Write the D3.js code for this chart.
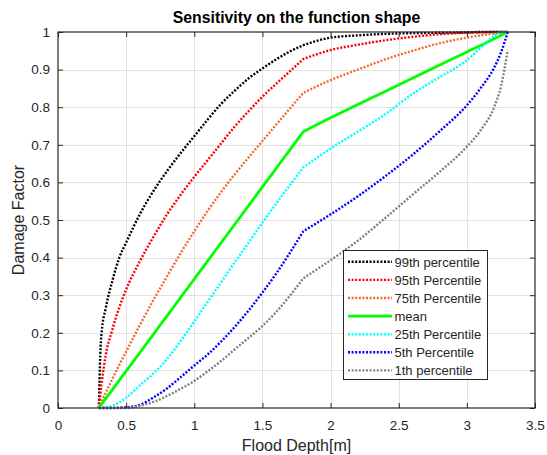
<!DOCTYPE html>
<html lang="en">
<head>
<meta charset="UTF-8">
<title>Sensitivity on the function shape</title>
<script src="https://d3js.org/d3.v7.min.js"></script>
<style>
    body{ margin:0; background:#fff; }
    text{ font-family:"Liberation Sans", Arial, Helvetica, sans-serif; fill:#262626; }
    .tick text{ font-size:13.5px; }
    .label{ font-size:16px; }
    .title{ font-size:15.8px; font-weight:bold; fill:#000; }
    .legend text{ font-size:13px; }
</style>
</head>
<body>
<div id="fig"></div>
<script>
    // flood depth samples [m]
    let depth = [0.3, 0.31, 0.32, 0.35, 0.4, 0.45, 0.5, 0.6, 0.7, 0.8, 0.9, 1.0, 1.1, 1.2, 1.3, 1.4, 1.5, 1.6, 1.7, 1.8,
                 2.0, 2.2, 2.4, 2.6, 2.8, 3.0, 3.1, 3.2, 3.25, 3.3]
    // damage factor
    let p99  = [0, 0.14, 0.2, 0.265, 0.34, 0.4, 0.44, 0.515, 0.577, 0.63, 0.678, 0.723, 0.768, 0.81, 0.845, 0.877, 0.903, 0.927, 0.948, 0.965,
                0.985, 0.991, 0.995, 0.997, 0.998, 0.999, 1, 1, 1, 1]
    let p95  = [0, 0.035, 0.065, 0.14, 0.21, 0.268, 0.315, 0.39, 0.455, 0.515, 0.567, 0.615, 0.66, 0.705, 0.75, 0.79, 0.828, 0.862, 0.895, 0.928,
                0.952, 0.966, 0.978, 0.987, 0.994, 0.998, 0.999, 1, 1, 1]
    let p75  = [0, 0.008, 0.016, 0.04, 0.078, 0.115, 0.15, 0.22, 0.287, 0.35, 0.412, 0.47, 0.525, 0.576, 0.623, 0.667, 0.71, 0.753, 0.796, 0.838,
                0.872, 0.9, 0.927, 0.95, 0.97, 0.985, 0.991, 0.996, 0.998, 1]
    let mean = [0, 0.005, 0.01, 0.025, 0.049, 0.074, 0.098, 0.147, 0.196, 0.245, 0.294, 0.343, 0.392, 0.441, 0.49, 0.539, 0.588, 0.637, 0.686, 0.735,
                0.772, 0.807, 0.842, 0.877, 0.912, 0.947, 0.964, 0.982, 0.991, 1]
    let p25  = [0, 0, 0.001, 0.002, 0.006, 0.015, 0.027, 0.06, 0.092, 0.13, 0.178, 0.23, 0.283, 0.336, 0.389, 0.441, 0.493, 0.543, 0.592, 0.64,
                0.69, 0.735, 0.781, 0.835, 0.88, 0.925, 0.958, 0.99, 1, 1]
    let p5   = [0, 0, 0, 0, 0, 0.001, 0.002, 0.008, 0.028, 0.052, 0.082, 0.113, 0.143, 0.178, 0.217, 0.26, 0.307, 0.357, 0.412, 0.47,
                0.515, 0.563, 0.616, 0.673, 0.736, 0.805, 0.85, 0.905, 0.945, 1]
    let p1   = [0, 0, 0, 0, 0, 0, 0, 0.006, 0.016, 0.032, 0.051, 0.072, 0.098, 0.126, 0.157, 0.187, 0.218, 0.255, 0.298, 0.345,
                0.393, 0.445, 0.505, 0.567, 0.628, 0.695, 0.738, 0.8, 0.855, 0.952]

    let seriesNames = ["99th percentile", "95th Percentile", "75th Percentile", "mean", "25th Percentile", "5th Percentile", "1th percentile"]
    let seriesColors = ["#000000", "#ff0000", "#f06a30", "#00ff00", "#00ffff", "#0000ff", "#808080"]
    let seriesValues = [p99, p95, p75, mean, p25, p5, p1]

    let xTicks = [0, 0.5, 1, 1.5, 2, 2.5, 3, 3.5]
    let yTicks = [0, 0.1, 0.2, 0.3, 0.4, 0.5, 0.6, 0.7, 0.8, 0.9, 1]

    let W = 547, H = 455
    let mLeft = 58, mRight = 535, mTop = 32, mBottom = 408

    let svg = d3.select("#fig").append("svg").attr("width", W).attr("height", H)

    let x = d3.scaleLinear().domain([0, 3.5]).range([mLeft, mRight])
    let y = d3.scaleLinear().domain([0, 1]).range([mBottom, mTop])

    // grid
    let grid = svg.append("g").attr("stroke", "#e1e1e1").attr("stroke-width", 1)
    grid.selectAll(".gx").data(xTicks.slice(1, -1)).enter().append("line")
        .attr("x1", d => Math.round(x(d)) + 0.5).attr("x2", d => Math.round(x(d)) + 0.5)
        .attr("y1", mTop).attr("y2", mBottom)
    grid.selectAll(".gy").data(yTicks.slice(1, -1)).enter().append("line")
        .attr("y1", d => Math.round(y(d)) + 0.5).attr("y2", d => Math.round(y(d)) + 0.5)
        .attr("x1", mLeft).attr("x2", mRight)

    // curves: smooth on each side of the break at 1.8 m, sharp corner at the break
    let kink = depth.indexOf(1.8)
    let line = d3.line()
        .x(d => x(d[0]))
        .y(d => y(d[1]))
        .curve(d3.curveMonotoneX)
    function curvePath(vals) {
        let pts = depth.map((d, i) => [d, vals[i]])
        let a = line(pts.slice(0, kink + 1))
        let b = line(pts.slice(kink)).replace(/^M/, "L")
        return a + b
    }

    seriesValues.forEach(function (vals, k) {
        let p = svg.append("path")
            .attr("d", curvePath(vals))
            .attr("fill", "none")
            .attr("stroke", seriesColors[k])
            .attr("stroke-linejoin", "round")
        if (seriesNames[k] === "mean") {
            p.attr("stroke-width", 2.8)
        } else {
            p.attr("stroke-width", 2.4).attr("stroke-dasharray", "2,1.6")
        }
    })

    // axes, ticks inward on all four sides
    let fmt = d => String(d)
    svg.append("g").attr("transform", `translate(0,${mBottom})`)
        .call(d3.axisBottom(x).tickValues(xTicks).tickFormat(fmt).tickSizeInner(-5).tickSizeOuter(0).tickPadding(12))
    svg.append("g").attr("transform", `translate(0,${mTop})`)
        .call(d3.axisTop(x).tickValues(xTicks).tickFormat("").tickSizeInner(-5).tickSizeOuter(0))
    svg.append("g").attr("transform", `translate(${mLeft},0)`)
        .call(d3.axisLeft(y).tickValues(yTicks).tickFormat(fmt).tickSizeInner(-5).tickSizeOuter(0).tickPadding(8))
    svg.append("g").attr("transform", `translate(${mRight},0)`)
        .call(d3.axisRight(y).tickValues(yTicks).tickFormat("").tickSizeInner(-5).tickSizeOuter(0))
    svg.selectAll(".domain").remove()
    svg.selectAll(".tick line").attr("stroke", "#262626")
    svg.selectAll(".tick text").attr("fill", "#262626")

    svg.append("rect")
        .attr("x", mLeft).attr("y", mTop)
        .attr("width", mRight - mLeft).attr("height", mBottom - mTop)
        .attr("fill", "none").attr("stroke", "#262626").attr("stroke-width", 1.2)

    // labels
    svg.append("text").attr("class", "title")
        .attr("x", (mLeft + mRight) / 2).attr("y", 23)
        .attr("text-anchor", "middle")
        .text("Sensitivity on the function shape")
    svg.append("text").attr("class", "label")
        .attr("x", (mLeft + mRight) / 2).attr("y", 451)
        .attr("text-anchor", "middle")
        .text("Flood Depth[m]")
    svg.append("text").attr("class", "label")
        .attr("transform", `translate(24,${(mTop + mBottom) / 2}) rotate(-90)`)
        .attr("text-anchor", "middle")
        .text("Damage Factor")

    // legend
    let lg = svg.append("g").attr("class", "legend")
    lg.append("rect")
        .attr("x", 343.5).attr("y", 250.5).attr("width", 144).attr("height", 129)
        .attr("fill", "#fff").attr("stroke", "#262626").attr("stroke-width", 1)
    seriesNames.forEach(function (name, k) {
        let cy = 261.8 + k * 18.1
        let l = lg.append("line")
            .attr("x1", 348).attr("x2", 392).attr("y1", cy).attr("y2", cy)
            .attr("stroke", seriesColors[k])
        if (name === "mean") {
            l.attr("stroke-width", 2.8)
        } else {
            l.attr("stroke-width", 2.4).attr("stroke-dasharray", "2,1.6")
        }
        lg.append("text").attr("x", 394.5).attr("y", cy + 4.8).text(name)
    })
</script>
</body>
</html>
